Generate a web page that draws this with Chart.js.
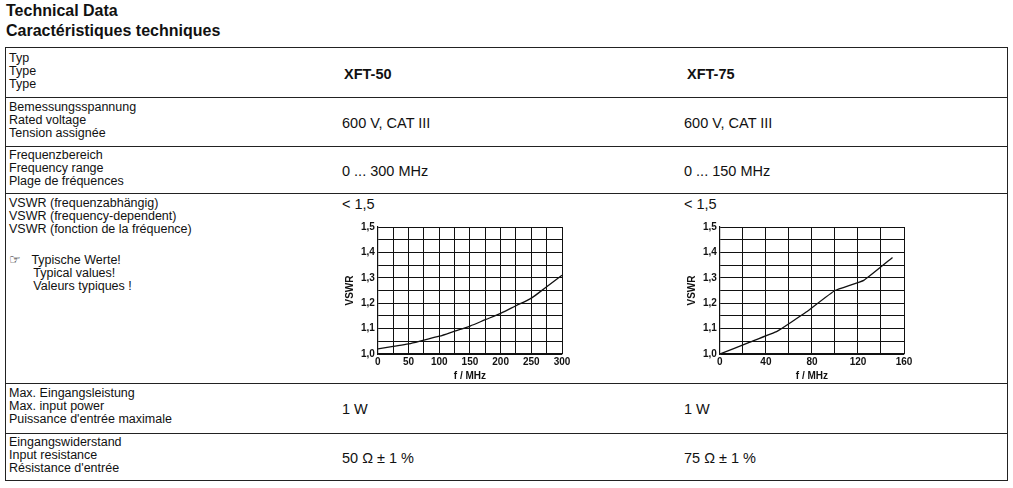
<!DOCTYPE html>
<html><head><meta charset="utf-8">
<script src="https://cdn.jsdelivr.net/npm/chart.js@4"></script>
<style>
body{margin:0;background:#fff;font-family:"Liberation Sans",Arial,sans-serif;color:#111;}
.h{position:absolute;left:6px;font-weight:bold;font-size:16px;}
#tbl{position:absolute;left:5px;top:47px;width:1001px;height:432px;border:1px solid #222;}
.rl{position:absolute;left:0;width:1001px;border-top:1px solid #222;}
.lab{position:absolute;left:3px;font-size:12.5px;line-height:13px;}
.val{position:absolute;font-size:14.5px;}
canvas{position:absolute;}
</style></head><body>
<div class="h" style="top:2px">Technical Data</div>
<div class="h" style="top:22px">Caractéristiques techniques</div>
<div id="tbl">
<div class="rl" style="top:49px"></div>
<div class="rl" style="top:98px"></div>
<div class="rl" style="top:145px"></div>
<div class="rl" style="top:335px"></div>
<div class="rl" style="top:385px"></div>
<div class="lab" style="top:4px">Typ<br>Type<br>Type</div>
<div class="val" style="left:338px;top:18px;font-weight:bold">XFT-50</div>
<div class="val" style="left:681px;top:18px;font-weight:bold">XFT-75</div>
<div class="lab" style="top:53px">Bemessungsspannung<br>Rated voltage<br>Tension assignée</div>
<div class="val" style="left:336px;top:67px">600 V, CAT III</div>
<div class="val" style="left:678px;top:67px">600 V, CAT III</div>
<div class="lab" style="top:101px">Frequenzbereich<br>Frequency range<br>Plage de fréquences</div>
<div class="val" style="left:336px;top:115px">0 ... 300 MHz</div>
<div class="val" style="left:678px;top:115px">0 ... 150 MHz</div>
<div class="lab" style="top:149px">VSWR (frequenzabhängig)<br>VSWR (frequency-dependent)<br>VSWR (fonction de la fréquence)</div>
<div class="val" style="left:336px;top:148px">&lt; 1,5</div>
<div class="val" style="left:678px;top:148px">&lt; 1,5</div>
<div class="lab" style="top:206px">☞ &nbsp;&nbsp;Typische Werte!<br>&nbsp;&nbsp;&nbsp;&nbsp;&nbsp;&nbsp;&nbsp;Typical values!<br>&nbsp;&nbsp;&nbsp;&nbsp;&nbsp;&nbsp;&nbsp;Valeurs typiques !</div>
<div class="lab" style="top:339px">Max. Eingangsleistung<br>Max. input power<br>Puissance d'entrée maximale</div>
<div class="val" style="left:336px;top:353px">1 W</div>
<div class="val" style="left:678px;top:353px">1 W</div>
<div class="lab" style="top:388px">Eingangswiderstand<br>Input resistance<br>Résistance d'entrée</div>
<div class="val" style="left:336px;top:402px">50 Ω ± 1 %</div>
<div class="val" style="left:678px;top:402px">75 Ω ± 1 %</div>
</div>
<canvas id="c1" width="232" height="164" style="left:342px;top:218px"></canvas>
<canvas id="c2" width="232" height="164" style="left:684px;top:218px"></canvas>
<script>
const f50=[0,25,50,75,100,125,150,175,200,225,250,275,300];
const v50=[1.02,1.03,1.04,1.055,1.07,1.09,1.11,1.135,1.16,1.19,1.22,1.265,1.31];
const f75=[0,25,50,75,100,125,150];
const v75=[1.0,1.045,1.09,1.165,1.25,1.29,1.38];
function mk(id,fx,vy,xmax,xstep,ten){
 new Chart(document.getElementById(id),{type:'line',
  data:{datasets:[{data:fx.map((x,i)=>({x:x,y:vy[i]})),borderColor:'#111',borderWidth:1.3,pointRadius:0,tension:ten}]},
  options:{responsive:false,animation:false,plugins:{legend:{display:false},tooltip:{enabled:false}},
   layout:{padding:{right:12,top:4}},
   scales:{
    x:{type:'linear',min:0,max:xmax,border:{color:'#111',width:1.2},grid:{color:'#111',lineWidth:1,drawTicks:false},
     ticks:{stepSize:xstep/2,autoSkip:false,maxRotation:0,minRotation:0,padding:2,color:'#111',font:{family:'Liberation Sans',size:10,weight:'bold'},callback:v=>v%xstep===0?v:''},
     title:{display:true,text:'f / MHz',color:'#111',padding:0,font:{family:'Liberation Sans',size:10,weight:'bold'}}},
    y:{min:1.0,max:1.5,border:{color:'#111',width:1.2},grid:{color:'#111',lineWidth:1,drawTicks:false},
     ticks:{stepSize:0.05,autoSkip:false,padding:3,color:'#111',font:{family:'Liberation Sans',size:10,weight:'bold'},
      callback:v=>{const r=Math.round(v*100);return r%10===0?(r/100).toFixed(1).replace('.',','):'';}},
     title:{display:true,text:'VSWR',color:'#111',padding:2,font:{family:'Liberation Sans',size:10,weight:'bold'}}}
   }}});
}
mk('c1',f50,v50,300,50,0.3);
mk('c2',f75,v75,160,40,0.1);
</script>
</body></html>
